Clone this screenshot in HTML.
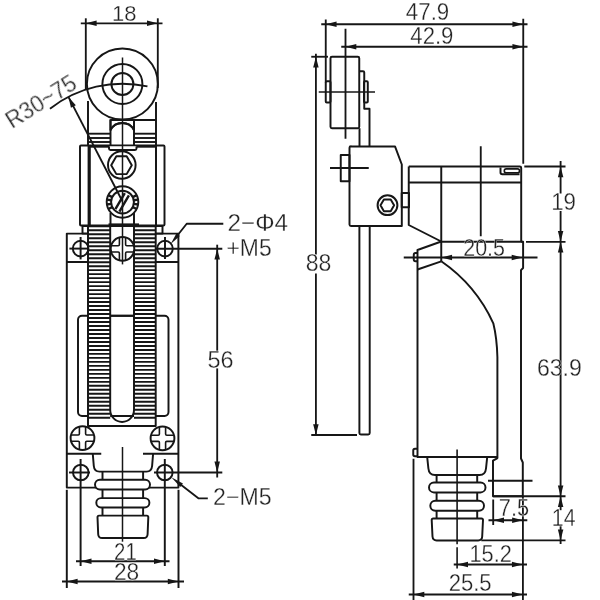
<!DOCTYPE html>
<html lang="en">
<head>
<meta charset="utf-8">
<title>Limit switch dimensions</title>
<style>
html,body{margin:0;padding:0;background:#fff;}
body{width:600px;height:600px;overflow:hidden;font-family:"Liberation Sans",sans-serif;}
svg{display:block;}
svg text{font-family:"Liberation Sans",sans-serif;}
</style>
</head>
<body>
<svg width="600" height="600" viewBox="0 0 600 600" stroke="#161616" stroke-width="1.95" fill="none" stroke-linejoin="round">
<rect x="0" y="0" width="600" height="600" fill="#fff" stroke="none"/>
<g id="front">
<rect x="66.8" y="233.6" width="111.6" height="254" fill="#fff"/>
<line x1="66.8" y1="262" x2="178.3" y2="262"/>
<line x1="66.75" y1="453.7" x2="101.25" y2="453.7"/>
<line x1="143" y1="453.7" x2="178.5" y2="453.7"/>
<rect x="78" y="315.8" width="90.5" height="100.2" rx="4"/>
<rect x="82.5" y="226" width="80" height="7.5" fill="#fff"/>
<rect x="80" y="145.5" width="84.5" height="80" rx="1" fill="#fff"/>
<line x1="89.2" y1="145.5" x2="89.2" y2="226" stroke-width="3.2"/>
<line x1="156" y1="145.5" x2="156" y2="226" stroke-width="2"/>
<line x1="88" y1="146.5" x2="110" y2="146.5" stroke-width="2.4"/>
<line x1="136" y1="146.5" x2="156" y2="146.5" stroke-width="2.4"/>
<line x1="88" y1="101" x2="88" y2="145"/>
<line x1="156" y1="102" x2="156" y2="145"/>
<line x1="110.5" y1="120" x2="156" y2="120"/>
<line x1="88" y1="133.7" x2="110.5" y2="133.7" stroke-width="1.9"/>
<line x1="134" y1="133.7" x2="156" y2="133.7" stroke-width="1.9"/>
<line x1="88" y1="138" x2="110.5" y2="138" stroke-width="1.9"/>
<line x1="134" y1="138" x2="156" y2="138" stroke-width="1.9"/>
<line x1="88" y1="142" x2="110.5" y2="142" stroke-width="1.9"/>
<line x1="134" y1="142" x2="156" y2="142" stroke-width="1.9"/>
<path d="M110.5,119.5 V146 M134,119.5 V146"/>
<path d="M110.5,130 A13.4,13.4 0 0 1 134,130"/>
<path d="M109,146.5 V148.5 Q109,150 110.5,150 H135 Q136.5,150 136.5,148.5 V146.5" fill="#fff"/>
<circle cx="122.4" cy="84" r="35.5" fill="#fff"/>
<circle cx="122.4" cy="84" r="20"/>
<circle cx="122.4" cy="84" r="11"/>
<line x1="110.5" y1="120" x2="156" y2="120"/>
<path d="M110.5,119.5 V130 A13.4,13.4 0 0 1 134,130 V119.5"/>
<circle cx="121.8" cy="165" r="13.8"/>
<polygon points="131.80,165.20 126.65,174.12 116.35,174.12 111.20,165.20 116.35,156.28 126.65,156.28"/>
<path d="M110.5,213 V224 M134,213 V224"/>
<line x1="108.5" y1="224.7" x2="139" y2="224.7" stroke-width="2.6"/>
<circle cx="122.5" cy="202" r="15.8" fill="#fff"/>
<circle cx="122.5" cy="202.1" r="11.4"/>
<path d="M132.75,197.05L136.70,195.12M133.76,200.27L138.11,199.58M133.76,203.83L138.11,204.52M132.75,207.05L136.70,208.98M112.25,207.05L108.30,208.98M111.24,203.83L106.89,204.52M111.24,200.27L106.89,199.58M112.25,197.05L108.30,195.12" stroke-width="2.4"/>
<rect x="88" y="226.5" width="22.2" height="199.5" fill="#fff" stroke="none"/>
<path d="M88,226.30H110.2M88,230.29H110.2M88,234.28H110.2M88,238.26H110.2M88,242.25H110.2M88,246.24H110.2M88,250.23H110.2M88,254.22H110.2M88,258.20H110.2M88,262.19H110.2M88,266.18H110.2M88,270.17H110.2M88,274.16H110.2M88,278.14H110.2M88,282.13H110.2M88,286.12H110.2M88,290.11H110.2M88,294.10H110.2M88,298.08H110.2M88,302.07H110.2M88,306.06H110.2M88,310.05H110.2M88,314.04H110.2M88,318.02H110.2M88,322.01H110.2M88,326.00H110.2M88,329.99H110.2M88,333.98H110.2M88,337.96H110.2M88,341.95H110.2M88,345.94H110.2M88,349.93H110.2M88,353.92H110.2M88,357.90H110.2M88,361.89H110.2M88,365.88H110.2M88,369.87H110.2M88,373.86H110.2M88,377.84H110.2M88,381.83H110.2M88,385.82H110.2M88,389.81H110.2M88,393.80H110.2M88,397.78H110.2M88,401.77H110.2M88,405.76H110.2M88,409.75H110.2M88,413.74H110.2M88,417.72H110.2" stroke-width="1.9"/>
<rect x="134" y="226.5" width="21.7" height="199.5" fill="#fff" stroke="none"/>
<path d="M134,226.30H155.7M134,230.29H155.7M134,234.28H155.7M134,238.26H155.7M134,242.25H155.7M134,246.24H155.7M134,250.23H155.7M134,254.22H155.7M134,258.20H155.7M134,262.19H155.7M134,266.18H155.7M134,270.17H155.7M134,274.16H155.7M134,278.14H155.7M134,282.13H155.7M134,286.12H155.7M134,290.11H155.7M134,294.10H155.7M134,298.08H155.7M134,302.07H155.7M134,306.06H155.7M134,310.05H155.7M134,314.04H155.7M134,318.02H155.7M134,322.01H155.7M134,326.00H155.7M134,329.99H155.7M134,333.98H155.7M134,337.96H155.7M134,341.95H155.7M134,345.94H155.7M134,349.93H155.7M134,353.92H155.7M134,357.90H155.7M134,361.89H155.7M134,365.88H155.7M134,369.87H155.7M134,373.86H155.7M134,377.84H155.7M134,381.83H155.7M134,385.82H155.7M134,389.81H155.7M134,393.80H155.7M134,397.78H155.7M134,401.77H155.7M134,405.76H155.7M134,409.75H155.7M134,413.74H155.7M134,417.72H155.7" stroke-width="1.9"/>
<rect x="110.2" y="227" width="23.8" height="60" fill="#fff" stroke="none"/>
<path d="M88,226 V426 H155.7 V226"/>
<path d="M110.2,226 V410 A11.9,11.9 0 0 0 134,410 V226"/>
<line x1="110.2" y1="315.8" x2="134" y2="315.8"/>
<line x1="112" y1="416" x2="132.2" y2="416"/>
<circle cx="80.6" cy="248.6" r="7.8"/>
<line x1="80.6" y1="237" x2="80.6" y2="259.4"/>
<line x1="69.4" y1="248.6" x2="89" y2="248.6"/>
<circle cx="165" cy="248.6" r="7.8"/>
<line x1="165" y1="237" x2="165" y2="259"/>
<line x1="156" y1="248.8" x2="222.3" y2="248.8"/>
<circle cx="122.5" cy="248.9" r="11.8" fill="#fff"/>
<path d="M133.89,252.00 L126.80,252.00 Q125.60,252.00 125.60,253.20 L125.60,260.29 M111.11,252.00 L118.20,252.00 Q119.40,252.00 119.40,253.20 L119.40,260.29 M111.11,245.80 L118.20,245.80 Q119.40,245.80 119.40,244.60 L119.40,237.51 M133.89,245.80 L126.80,245.80 Q125.60,245.80 125.60,244.60 L125.60,237.51 " stroke-width="1.6"/>
<line x1="122.5" y1="57.5" x2="122.5" y2="264.4" stroke-width="1.5"/>
<path d="M115.4,209.2 L124.8,193.2 M119.4,211.6 L128.9,195.4" stroke-width="2.4"/>
<circle cx="82.5" cy="438.1" r="11.9" fill="#fff"/>
<path d="M93.99,441.20 L86.80,441.20 Q85.60,441.20 85.60,442.40 L85.60,449.59 M71.01,441.20 L78.20,441.20 Q79.40,441.20 79.40,442.40 L79.40,449.59 M71.01,435.00 L78.20,435.00 Q79.40,435.00 79.40,433.80 L79.40,426.61 M93.99,435.00 L86.80,435.00 Q85.60,435.00 85.60,433.80 L85.60,426.61 " stroke-width="1.6"/>
<circle cx="162.5" cy="438.3" r="11.9" fill="#fff"/>
<path d="M173.99,441.40 L166.80,441.40 Q165.60,441.40 165.60,442.60 L165.60,449.79 M151.01,441.40 L158.20,441.40 Q159.40,441.40 159.40,442.60 L159.40,449.79 M151.01,435.20 L158.20,435.20 Q159.40,435.20 159.40,434.00 L159.40,426.81 M173.99,435.20 L166.80,435.20 Q165.60,435.20 165.60,434.00 L165.60,426.81 " stroke-width="1.6"/>
<circle cx="80.8" cy="472.5" r="7.8"/>
<circle cx="164.8" cy="472.5" r="7.8"/>
<line x1="69" y1="472.5" x2="90" y2="472.5"/>
<line x1="154" y1="472.5" x2="222.3" y2="472.5"/>
<line x1="80.6" y1="459" x2="80.6" y2="566"/>
<line x1="164.8" y1="459" x2="164.8" y2="566"/>
<path d="M92.75,453.7 L93.8,466 Q94.3,471.6 99.5,471.6 H146.5 Q151.6,471.6 152.1,466 L153.1,453.7"/>
<line x1="102.5" y1="471.6" x2="102.5" y2="480"/>
<line x1="143.1" y1="471.6" x2="143.1" y2="480"/>
<line x1="102.5" y1="489" x2="102.5" y2="498.5"/>
<line x1="143.1" y1="489" x2="143.1" y2="498.5"/>
<line x1="102.5" y1="507" x2="102.5" y2="516"/>
<line x1="143.1" y1="507" x2="143.1" y2="516"/>
<rect x="95" y="479.75" width="55" height="9.7" rx="4.85" fill="#fff"/>
<rect x="96.3" y="498.1" width="53.1" height="9.4" rx="4.7" fill="#fff"/>
<path d="M99,515.6 H146.8 Q148.3,515.6 148.3,517.2 L147.6,534.2 Q147.4,538 143.6,538 H102.2 Q98.4,538 98.2,534.2 L97.5,517.2 Q97.5,515.6 99,515.6 Z" fill="#fff"/>
<line x1="122.5" y1="447" x2="122.5" y2="541.7" stroke-width="1.5"/>
<line x1="66.8" y1="489.8" x2="66.8" y2="588"/>
<line x1="178.5" y1="489.8" x2="178.5" y2="588"/>
</g>
<g id="dimsL" stroke-width="1.85">
<line x1="85.8" y1="18.3" x2="85.8" y2="90"/>
<line x1="157.8" y1="18.3" x2="157.8" y2="88"/>
<line x1="80.8" y1="23.3" x2="162.5" y2="23.3"/>
<polygon points="85.80,23.30 96.60,20.55 96.60,26.05" fill="#161616" stroke="none"/>
<polygon points="157.80,23.30 147.00,26.05 147.00,20.55" fill="#161616" stroke="none"/>
<path d="M49.98,108.72 A117.5,117.5 0 0 1 147.46,86.45"/>
<line x1="122.4" y1="201.25" x2="68.43" y2="96.88"/>
<polygon points="68.43,96.88 75.83,105.21 70.95,107.74" fill="#161616" stroke="none"/>
<line x1="76" y1="561.2" x2="169.5" y2="561.2"/>
<polygon points="80.70,561.20 91.50,558.45 91.50,563.95" fill="#161616" stroke="none"/>
<polygon points="164.80,561.20 154.00,563.95 154.00,558.45" fill="#161616" stroke="none"/>
<line x1="62" y1="581.5" x2="184" y2="581.5"/>
<polygon points="66.80,581.50 77.60,578.75 77.60,584.25" fill="#161616" stroke="none"/>
<polygon points="178.60,581.50 167.80,584.25 167.80,578.75" fill="#161616" stroke="none"/>
<line x1="217.2" y1="244.7" x2="217.2" y2="352.2"/>
<line x1="217.2" y1="368.4" x2="217.2" y2="477.5"/>
<polygon points="217.20,248.80 219.95,259.60 214.45,259.60" fill="#161616" stroke="none"/>
<polygon points="217.20,472.40 214.45,461.60 219.95,461.60" fill="#161616" stroke="none"/>
<path d="M176,237.2 L186.7,223.7 H223.3"/>
<polygon points="170.70,244.00 176.51,233.29 179.80,235.90" fill="#161616" stroke="none"/>
<path d="M178,482.5 L198.7,498.4 H207.8"/>
<polygon points="171.30,477.30 182.96,483.46 180.28,486.95" fill="#161616" stroke="none"/>
</g>
<g id="side">
<rect x="330.5" y="56.75" width="28.75" height="71.5" rx="1.5"/>
<rect x="325.75" y="81.25" width="4.75" height="21.25" rx="1"/>
<path d="M359.25,71.25 H363 Q364.25,71.25 364.25,72.5 V108.75 H369.5 V146.25"/>
<line x1="359.5" y1="128.25" x2="359.5" y2="146.25"/>
<rect x="364" y="81.25" width="3.8" height="21.25" rx="1"/>
<line x1="318.75" y1="92" x2="375" y2="92" stroke-width="1.6"/>
<path d="M351,146.4 H395 L401.8,164.5 V226 H351 Q349.5,226 349.5,224.5 V147.75 Q349.5,146.25 351,146.25 Z"/>
<rect x="340.75" y="155" width="8.75" height="26.25"/>
<line x1="330" y1="168" x2="368.75" y2="168"/>
<circle cx="387.5" cy="205.2" r="9.9" stroke-width="2"/>
<polygon points="394.10,205.30 390.70,211.19 383.90,211.19 380.50,205.30 383.90,199.41 390.70,199.41"/>
<rect x="401.7" y="193" width="7.3" height="14.2"/>
<path d="M359.4,226 V433 Q359.4,434.5 360.9,434.5 H368.2 Q369.7,434.5 369.7,433 V226"/>
<path d="M408.75,166.5 H519.7 Q521.2,166.5 521.2,168 V241.75"/>
<line x1="408.75" y1="182.5" x2="521.2" y2="182.5"/>
<path d="M408.75,166.5 V225 L441.25,241.5"/>
<line x1="441.25" y1="166.5" x2="441.25" y2="261.3"/>
<line x1="440" y1="241.75" x2="522.5" y2="241.75"/>
<path d="M441.25,241.5 L417.5,250 V457 H497.25"/>
<path d="M417.5,269.5 L441.25,261.3"/>
<path d="M441.25,261.3 A152,152 0 0 1 493.3,323.3 Q496.9,338 497.4,357 V458.5"/>
<path d="M417.5,253 H415.5 Q413.75,253 413.75,255 V259.25 Q413.75,261.25 415.5,261.25 H417.5"/>
<path d="M417.5,448.75 H415 Q413.25,448.75 413.25,450.5 V454.5 Q413.25,456.25 415 456.25 H417.5"/>
<path d="M500.5,167.5 V172.5 Q500.5,174.3 502.3,174.3 H519.5"/>
<rect x="504.3" y="168.9" width="15.2" height="3.9" rx="1.9" stroke-width="1.6"/>
<path d="M521.2,241.75 H523.1 V268 L521,270.2 V458.5 L522.8,462.5 V496.2"/>
<path d="M427.2,457.2 L428.4,468.5 Q429,475 435,475 H479.5 Q485.4,475 486,468.5 L487.2,457.2"/>
<line x1="436.6" y1="475" x2="436.6" y2="483"/>
<line x1="477.2" y1="475" x2="477.2" y2="483"/>
<line x1="436.6" y1="492" x2="436.6" y2="501"/>
<line x1="477.2" y1="492" x2="477.2" y2="501"/>
<line x1="436.6" y1="510" x2="436.6" y2="519"/>
<line x1="477.2" y1="510" x2="477.2" y2="519"/>
<rect x="429" y="482.4" width="56.5" height="10" rx="5" fill="#fff"/>
<rect x="430.3" y="500.7" width="53.7" height="10.1" rx="5" fill="#fff"/>
<path d="M433.2,518.4 H481.5 Q483,518.4 483,520 L482.2,536.5 Q482,540.4 478.2,540.4 H436.6 Q432.8,540.4 432.5,536.5 L431.7,520 Q431.7,518.4 433.2,518.4 Z" fill="#fff"/>
<line x1="457.1" y1="449.5" x2="457.1" y2="544.3" stroke-width="1.6"/>
<line x1="457.1" y1="547.2" x2="457.1" y2="568.5" stroke-width="1.6"/>
<path d="M497.1,457.5 V458.3 L493,460.6 V496.2 H523"/>
</g>
<g id="dimsR" stroke-width="1.85">
<line x1="321.25" y1="24.25" x2="527.5" y2="24.25"/>
<line x1="325.75" y1="19.5" x2="325.75" y2="82.5"/>
<line x1="523.25" y1="18.75" x2="523.25" y2="163.75"/>
<polygon points="325.75,24.25 336.55,21.50 336.55,27.00" fill="#161616" stroke="none"/>
<polygon points="523.25,24.25 512.45,27.00 512.45,21.50" fill="#161616" stroke="none"/>
<line x1="341.25" y1="46.75" x2="527.5" y2="46.75"/>
<line x1="345.5" y1="28.75" x2="345.5" y2="138.75"/>
<polygon points="345.50,46.75 356.30,44.00 356.30,49.50" fill="#161616" stroke="none"/>
<polygon points="523.25,46.75 512.45,49.50 512.45,44.00" fill="#161616" stroke="none"/>
<line x1="315.9" y1="53.75" x2="315.9" y2="254.5"/>
<line x1="315.9" y1="273.5" x2="315.9" y2="435"/>
<line x1="311.25" y1="56.75" x2="328" y2="56.75"/>
<line x1="311.25" y1="435" x2="357" y2="435"/>
<polygon points="315.90,56.75 318.65,67.55 313.15,67.55" fill="#161616" stroke="none"/>
<polygon points="315.90,435.00 313.15,424.20 318.65,424.20" fill="#161616" stroke="none"/>
<line x1="403.75" y1="257.5" x2="537.5" y2="257.5"/>
<polygon points="441.25,257.50 452.05,254.75 452.05,260.25" fill="#161616" stroke="none"/>
<polygon points="522.50,257.50 511.70,260.25 511.70,254.75" fill="#161616" stroke="none"/>
<line x1="480.75" y1="146.25" x2="480.75" y2="236.25"/>
<line x1="524.3" y1="166.5" x2="565.5" y2="166.5"/>
<line x1="526" y1="241.9" x2="565.5" y2="241.9"/>
<line x1="560.6" y1="161" x2="560.6" y2="193.5"/>
<line x1="560.6" y1="211" x2="560.6" y2="496.2"/>
<polygon points="560.60,166.50 563.35,177.30 557.85,177.30" fill="#161616" stroke="none"/>
<polygon points="560.60,241.75 557.85,230.95 563.35,230.95" fill="#161616" stroke="none"/>
<polygon points="560.60,241.75 563.35,252.55 557.85,252.55" fill="#161616" stroke="none"/>
<polygon points="560.60,496.20 557.85,485.40 563.35,485.40" fill="#161616" stroke="none"/>
<line x1="493" y1="496.2" x2="565.5" y2="496.2"/>
<line x1="481.25" y1="540.3" x2="565.5" y2="540.3"/>
<line x1="560.6" y1="496.2" x2="560.6" y2="510.2"/>
<line x1="560.6" y1="526" x2="560.6" y2="544"/>
<polygon points="560.60,496.20 563.35,507.00 557.85,507.00" fill="#161616" stroke="none"/>
<polygon points="560.60,540.30 557.85,529.50 563.35,529.50" fill="#161616" stroke="none"/>
<line x1="488" y1="480.75" x2="532.5" y2="480.75"/>
<line x1="493.2" y1="499.5" x2="493.2" y2="525"/>
<line x1="488.5" y1="520.2" x2="527.3" y2="520.2"/>
<polygon points="493.20,520.20 504.00,517.45 504.00,522.95" fill="#161616" stroke="none"/>
<polygon points="522.90,520.20 512.10,522.95 512.10,517.45" fill="#161616" stroke="none"/>
<line x1="453.75" y1="564.5" x2="527" y2="564.5"/>
<polygon points="457.20,564.50 468.00,561.75 468.00,567.25" fill="#161616" stroke="none"/>
<polygon points="522.75,564.50 511.95,567.25 511.95,561.75" fill="#161616" stroke="none"/>
<line x1="408.75" y1="594.5" x2="527" y2="594.5"/>
<polygon points="413.50,594.50 424.30,591.75 424.30,597.25" fill="#161616" stroke="none"/>
<polygon points="522.75,594.50 511.95,597.25 511.95,591.75" fill="#161616" stroke="none"/>
<line x1="413.5" y1="458.75" x2="413.5" y2="600"/>
<line x1="522.9" y1="496.2" x2="522.9" y2="600"/>
</g>
<g id="txt" opacity="0.999" font-family="'Liberation Sans', sans-serif" fill="#222" stroke="#fff" stroke-width="0.26" paint-order="fill" style="paint-order:fill stroke">
<text x="0" y="0" font-size="20" transform="translate(112.12 20.90) scale(1.1013 1.1420)">18</text>
<text x="0" y="0" font-size="20" transform="rotate(-32 13.80 128.00) translate(11.84 127.88) scale(1.1073 1.2269)">R30~75</text>
<text x="0" y="0" font-size="20" transform="translate(227.56 230.69) scale(1.2145 1.1845)">2−Φ4</text>
<text x="0" y="0" font-size="20" transform="translate(226.48 255.69) scale(1.1448 1.1774)">+M5</text>
<text x="0" y="0" font-size="20" transform="translate(207.43 367.69) scale(1.1708 1.1986)">56</text>
<text x="0" y="0" font-size="20" transform="translate(213.11 504.99) scale(1.1582 1.1915)">2−M5</text>
<text x="0" y="0" font-size="20" transform="translate(114.05 560.09) scale(1.0202 1.1845)">21</text>
<text x="0" y="0" font-size="20" transform="translate(113.93 580.09) scale(1.1381 1.1845)">28</text>
<text x="0" y="0" font-size="20" transform="translate(405.87 19.59) scale(1.1148 1.1845)">47.9</text>
<text x="0" y="0" font-size="20" transform="translate(410.37 43.69) scale(1.1068 1.1845)">42.9</text>
<text x="0" y="0" font-size="20" transform="translate(305.79 271.49) scale(1.1541 1.2127)">88</text>
<text x="0" y="0" font-size="20" transform="translate(463.20 256.49) scale(1.0744 1.1986)">20.5</text>
<text x="0" y="0" font-size="20" transform="translate(551.20 210.09) scale(1.1141 1.1986)">19</text>
<text x="0" y="0" font-size="20" transform="translate(536.92 376.19) scale(1.1530 1.1986)">63.9</text>
<text x="0" y="0" font-size="20" transform="translate(551.87 525.69) scale(1.0650 1.1845)">14</text>
<text x="0" y="0" font-size="20" transform="translate(498.78 515.69) scale(1.0908 1.1915)">7.5</text>
<text x="0" y="0" font-size="20" transform="translate(469.44 562.09) scale(1.0896 1.1845)">15.2</text>
<text x="0" y="0" font-size="20" transform="translate(448.67 590.79) scale(1.1040 1.1845)">25.5</text>
</g>
</svg>
</body>
</html>
